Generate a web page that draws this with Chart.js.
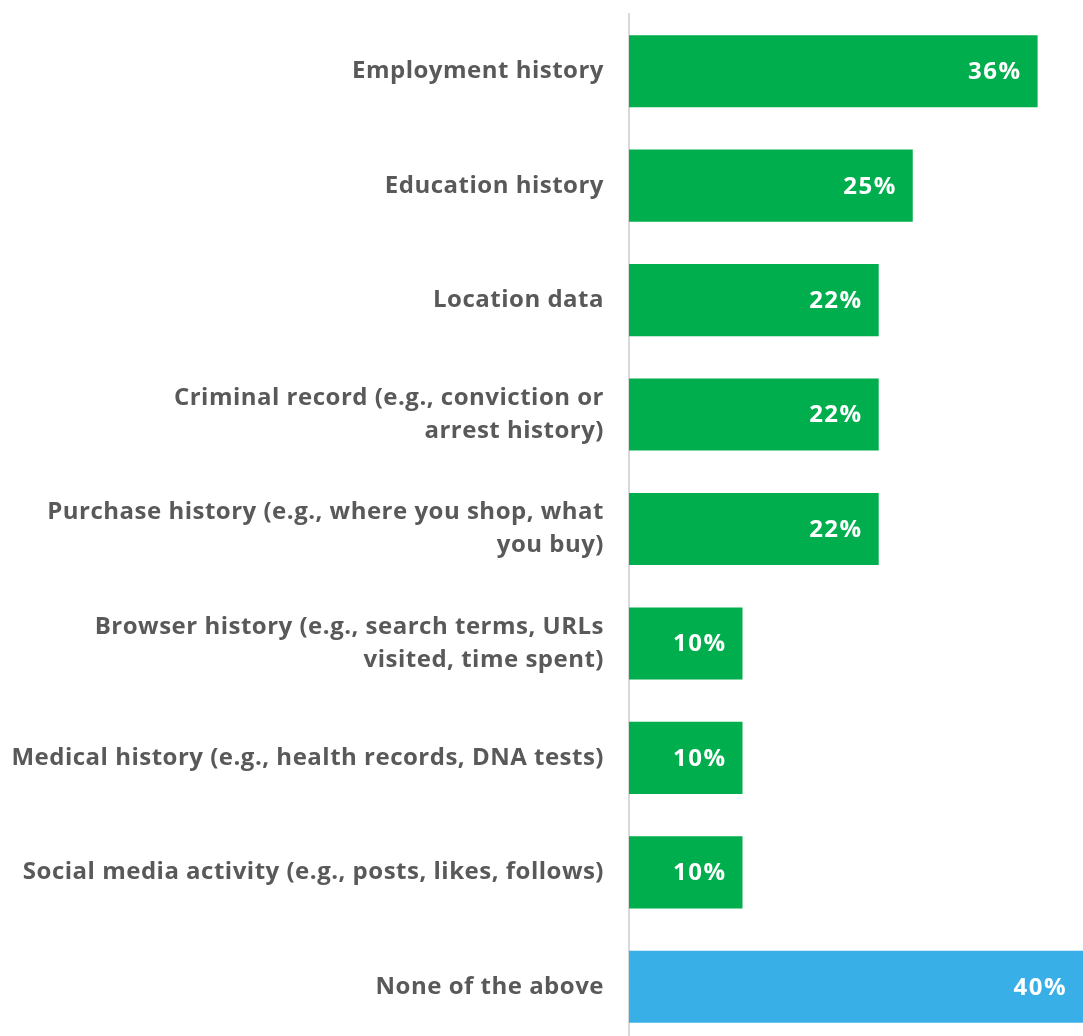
<!DOCTYPE html>
<html>
<head>
<meta charset="utf-8">
<script src="https://cdn.jsdelivr.net/npm/chart.js@4.4.0/dist/chart.umd.min.js"></script>
<style>
  html, body { margin: 0; padding: 0; background: #fff; overflow: hidden; }
  #wrap { width: 1083px; height: 1044px; }
</style>
</head>
<body>
<div id="wrap"><canvas id="chart" width="1083" height="1044"></canvas></div>
<script>
const categories = [
  'Employment history',
  'Education history',
  'Location data',
  ['Criminal record (e.g., conviction or', 'arrest history)'],
  ['Purchase history (e.g., where you shop, what', 'you buy)'],
  ['Browser history (e.g., search terms, URLs', 'visited, time spent)'],
  'Medical history (e.g., health records, DNA tests)',
  'Social media activity (e.g., posts, likes, follows)',
  'None of the above'
];
const values = [36, 25, 22, 22, 22, 10, 10, 10, 40];
const barColors = ['#00ae4d', '#00ae4d', '#00ae4d', '#00ae4d', '#00ae4d', '#00ae4d', '#00ae4d', '#00ae4d', '#38afe6'];

// slightly looser tracking for the category labels
const wideText = {
  id: 'wideText',
  beforeDraw(chart) {
    chart.ctx.letterSpacing = '0.5px';
  }
};

// percent labels drawn inside the end of each bar
const valueLabels = {
  id: 'valueLabels',
  afterDatasetsDraw(chart) {
    const ctx = chart.ctx;
    const meta = chart.getDatasetMeta(0);
    ctx.save();
    ctx.fillStyle = '#ffffff';
    ctx.font = '700 24px "Open Sans"';
    ctx.letterSpacing = '1.5px';
    ctx.textAlign = 'right';
    ctx.textBaseline = 'middle';
    meta.data.forEach((bar, i) => {
      ctx.fillText(values[i] + '%', bar.x - 16, bar.y + 1);
    });
    ctx.restore();
  }
};

new Chart(document.getElementById('chart'), {
  type: 'bar',
  data: {
    labels: categories,
    datasets: [{
      data: values,
      backgroundColor: barColors,
      barPercentage: 0.63,
      categoryPercentage: 1
    }]
  },
  options: {
    indexAxis: 'y',
    responsive: false,
    animation: false,
    layout: { padding: { top: 14, right: 0, bottom: 0, left: 0 } },
    plugins: {
      legend: { display: false },
      tooltip: { enabled: false }
    },
    scales: {
      x: {
        display: false,
        min: 0,
        max: 40
      },
      y: {
        grid: { display: false, drawTicks: false },
        border: { display: true, color: '#d9d9d9', width: 2 },
        ticks: {
          color: '#595959',
          padding: 25,
          font: { family: 'Open Sans', weight: '700', size: 24, lineHeight: 1.375 }
        },
        afterFit(scale) {
          // fixed label column, no extra space above/below the first/last label
          scale.width = 629;
          scale.paddingTop = 0;
          scale.paddingBottom = 0;
        }
      }
    }
  },
  plugins: [wideText, valueLabels]
});
</script>
</body>
</html>
